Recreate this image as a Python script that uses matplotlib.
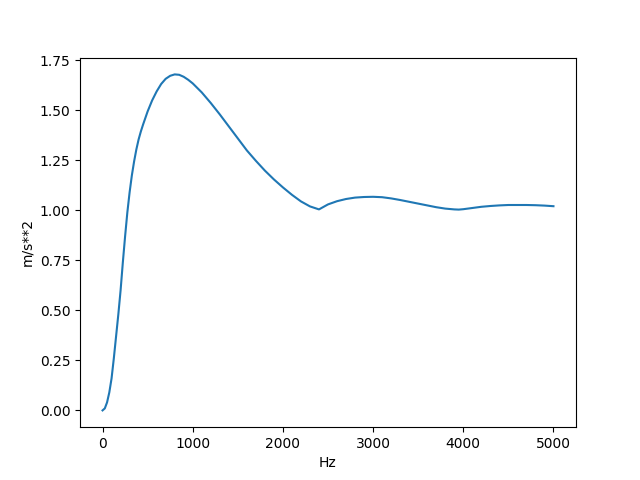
import matplotlib
matplotlib.use("Agg")
import matplotlib.pyplot as plt

# frequence (Hz) et reponse (m/s**2)
freq = [0, 25, 50, 75, 100, 125, 150, 175, 200, 225, 250, 275, 300, 325, 350,
        375, 400, 425, 450, 500, 550, 600, 650, 700, 750, 800, 850, 900, 950,
        1000, 1100, 1200, 1300, 1400, 1500, 1600, 1700, 1800, 1900, 2000, 2100,
        2200, 2300, 2400, 2500, 2600, 2700, 2800, 2900, 3000, 3100, 3200, 3300,
        3400, 3500, 3600, 3700, 3800, 3900, 3950, 4000, 4100, 4200, 4300, 4400,
        4500, 4600, 4700, 4800, 4900, 5000]
reponse = [0.0, 0.01, 0.04, 0.09, 0.16, 0.26, 0.37, 0.48, 0.60, 0.74, 0.87,
           0.99, 1.09, 1.175, 1.245, 1.305, 1.355, 1.395, 1.43, 1.495, 1.55,
           1.595, 1.632, 1.658, 1.673, 1.68, 1.678, 1.668, 1.653, 1.635, 1.59,
           1.537, 1.48, 1.42, 1.36, 1.30, 1.248, 1.199, 1.155, 1.115, 1.078,
           1.045, 1.02, 1.005, 1.03, 1.046, 1.057, 1.064, 1.067, 1.068, 1.066,
           1.06, 1.052, 1.043, 1.034, 1.025, 1.016, 1.009, 1.005, 1.004, 1.006,
           1.012, 1.018, 1.022, 1.025, 1.027, 1.027, 1.027, 1.026, 1.024, 1.021]

plt.figure(figsize=(6.4, 4.8), dpi=100)
plt.plot(freq, reponse)
plt.xlabel("Hz")
plt.ylabel("m/s**2")
plt.savefig("out.png")
